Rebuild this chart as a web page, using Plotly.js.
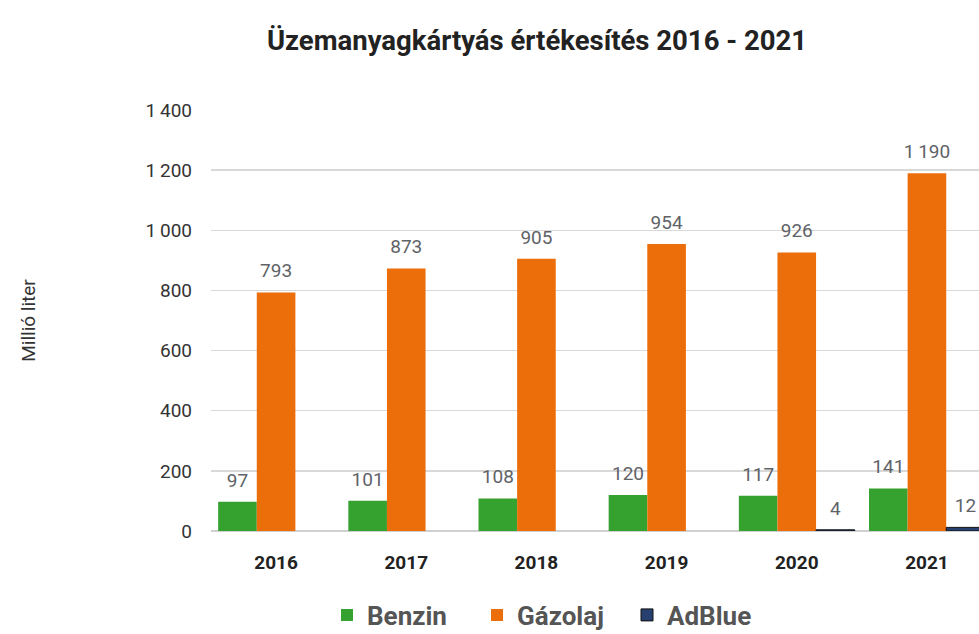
<!DOCTYPE html>
<html>
<head>
<meta charset="utf-8">
<script src="https://cdn.plot.ly/plotly-3.0.1.min.js"></script>
<style>html,body{margin:0;padding:0;background:#fff;}#chart{width:979px;height:634px;}</style>
</head>
<body>
<div id="chart"></div>
<script>
const years = ['2016', '2017', '2018', '2019', '2020', '2021'];
const benzin = [97, 101, 108, 120, 117, 141];
const gazolaj = [793, 873, 905, 954, 926, 1190];
const adblue = [null, null, null, null, 4, 12];
const yTicks = [0, 200, 400, 600, 800, 1000, 1200, 1400];

const FONT = 'Roboto, "Liberation Sans", sans-serif';
const labelFont = {family: FONT, size: 19, color: '#5f6368'};

function fmt(v) {
  if (v === null) return '';
  return v >= 1000 ? Math.floor(v / 1000) + '\u2009' + String(v % 1000).padStart(3, '0') : String(v);
}

function bars(name, vals, color, line) {
  return {
    type: 'bar', name: name, x: years, y: vals,
    marker: {color: color, line: line || {width: 0}},
    hoverinfo: 'x+y+name'
  };
}
function labels(name, vals) {
  return {
    type: 'scatter', mode: 'markers+text', name: name + ' címke', x: years, y: vals,
    text: vals.map(fmt), textposition: 'top center', textfont: labelFont,
    marker: {size: 15, opacity: 0, color: '#fff'},
    showlegend: false, cliponaxis: false, hoverinfo: 'skip'
  };
}

const data = [
  bars('Benzin', benzin, '#35a12f'),
  bars('Gázolaj', gazolaj, '#ec6e0b'),
  bars('AdBlue', adblue, '#27406f', {width: 1, color: '#111'}),
  labels('Benzin', benzin),
  labels('Gázolaj', gazolaj),
  labels('AdBlue', adblue)
];

const layout = {
  width: 979, height: 634,
  paper_bgcolor: '#ffffff', plot_bgcolor: '#ffffff',
  margin: {l: 211, r: 0, t: 110, b: 103},
  font: {family: FONT, color: '#333'},
  title: {
    text: '<b>Üzemanyagkártyás értékesítés 2016 - 2021</b>',
    font: {family: FONT, size: 27.5, color: '#222'},
    x: 537 / 979, xref: 'container', xanchor: 'center',
    y: 1 - 40 / 634, yref: 'container', yanchor: 'middle'
  },
  barmode: 'group', bargap: 0.11, bargroupgap: 0,
  scattermode: 'group', scattergap: 0.11,
  xaxis: {
    type: 'category', range: [-0.5, 5.4],
    tickfont: {family: FONT, size: 19, color: '#222', weight: 'bold'},
    showgrid: false, zeroline: false, showline: false,
    ticks: '', ticklabelstandoff: 18
  },
  yaxis: {
    range: [0, 1400], tickvals: yTicks, ticktext: yTicks.map(v => v === 0 ? '0' : fmt(v)),
    tickfont: {family: FONT, size: 19, color: '#333'},
    showgrid: true, gridcolor: '#d9d9d9', gridwidth: 1.5,
    zeroline: true, zerolinecolor: '#d0d0d0', zerolinewidth: 1.5,
    showline: false, ticks: '', ticklabelstandoff: 18,
    title: {text: 'Millió liter', font: {family: FONT, size: 19, color: '#333'}, standoff: 104}
  },
  showlegend: true,
  legend: {
    orientation: 'h', xref: 'container', yref: 'container',
    x: 552 / 979, xanchor: 'center', y: 1 - 615 / 634, yanchor: 'middle',
    font: {family: FONT, size: 26, color: '#555', weight: 'bold'},
    entrywidth: 105, entrywidthmode: 'pixels', tracegroupgap: 0, traceorder: 'normal'
  }
};

Plotly.newPlot('chart', data, layout, {displayModeBar: false, staticPlot: true});
</script>
</body>
</html>
